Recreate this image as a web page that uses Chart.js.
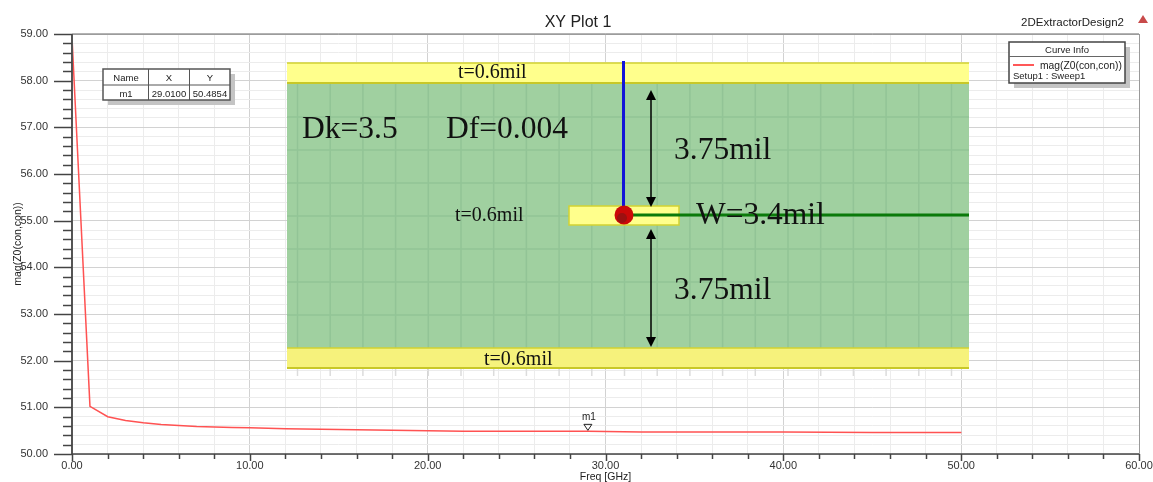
<!DOCTYPE html>
<html>
<head>
<meta charset="utf-8">
<title>XY Plot 1</title>
<script src="https://cdn.jsdelivr.net/npm/chart.js@4"></script>
<style>
  html, body { margin: 0; padding: 0; background: #fff; }
  /* the reference is a slightly soft screenshot */
  canvas { display: block; filter: blur(0.4px); }
</style>
</head>
<body>
<canvas id="xy-plot" width="1153" height="482"></canvas>
<script>
// values
const freqGHz = [0.01, 1.01, 2.01, 3.01, 4.01, 5.01, 6.01, 7.01, 8.01, 9.01, 10.01, 12.01, 14.01, 16.01, 18.01, 20.01, 22.01, 25.01, 29.01, 32.01, 36.01, 40.01, 45.01, 50.01];
const magZ0 = [58.85, 51.02, 50.80, 50.72, 50.67, 50.63, 50.61, 50.59, 50.58, 50.57, 50.56, 50.54, 50.53, 50.52, 50.51, 50.50, 50.49, 50.49, 50.4854, 50.47, 50.47, 50.47, 50.46, 50.46];
const markerName = 'm1';
const markerX = 29.01;
const markerY = 50.4854;

const plotTitle = 'XY Plot 1';
const designName = '2DExtractorDesign2';
const curveName = 'mag(Z0(con,con))';
const curveSetup = 'Setup1 : Sweep1';
const sans = '"Liberation Sans", Arial, sans-serif';
const serif = '"Liberation Serif", "Times New Roman", serif';

function text(c, str, x, y, font, align, color) {
  c.font = font;
  c.textAlign = align || 'left';
  c.textBaseline = 'middle';
  c.fillStyle = color || '#222';
  c.fillText(str, x, y);
}

function line(c, x1, y1, x2, y2, color, width) {
  c.strokeStyle = color;
  c.lineWidth = width;
  c.beginPath();
  c.moveTo(x1, y1);
  c.lineTo(x2, y2);
  c.stroke();
}

function arrowHead(c, x, y, dir) {
  c.fillStyle = '#000';
  c.beginPath();
  c.moveTo(x, y);
  c.lineTo(x - 5, y - dir * 10);
  c.lineTo(x + 5, y - dir * 10);
  c.closePath();
  c.fill();
}

function band(c, y, h, fill) {
  c.fillStyle = fill;
  c.fillRect(287, y, 682, h);
  line(c, 287, y, 969, y, '#d2d232', 1.5);
  line(c, 287, y + h, 969, y + h, '#c8c828', 2);
}

// the stack-up picture pasted on top of the plot
function drawInset(c) {
  c.fillStyle = '#a0d0a0';
  c.fillRect(287, 83, 682, 265);
  for (let i = 0; i <= 20; i++) {
    const x = 297.5 + i * 32.7;
    line(c, x, 83, x, 348, '#92c496', 1.5);
    line(c, x, 368, x, 376, '#dcdcdc', 1.5);
  }
  for (let i = 0; i < 7; i++) {
    const y = 117 + i * 33;
    line(c, 287, y, 969, y, '#92c496', 1.5);
  }

  band(c, 63, 20, '#ffff8c');
  band(c, 348, 20, '#f6f27c');
  c.fillStyle = '#ffff8c';
  c.strokeStyle = '#d2d232';
  c.lineWidth = 1.5;
  c.fillRect(569, 206, 110, 19);
  c.strokeRect(569, 206, 110, 19);

  line(c, 623.5, 61, 623.5, 215, '#1414d8', 3);
  line(c, 624, 215, 969, 215, '#0a7a0a', 3);
  c.fillStyle = '#cc0808';
  c.beginPath();
  c.arc(624, 215, 9.5, 0, Math.PI * 2);
  c.fill();
  c.fillStyle = '#9c1010';
  c.beginPath();
  c.arc(622, 218, 5, 0, Math.PI * 2);
  c.fill();

  line(c, 651, 95, 651, 202, '#000', 1.5);
  arrowHead(c, 651, 90, -1);
  arrowHead(c, 651, 207, 1);
  line(c, 651, 234, 651, 342, '#000', 1.5);
  arrowHead(c, 651, 229, -1);
  arrowHead(c, 651, 347, 1);

  const small = '20px ' + serif;
  const big = '31.5px ' + serif;
  text(c, 't=0.6mil', 458, 73, small, 'left', '#111');
  text(c, 't=0.6mil', 455, 216, small, 'left', '#111');
  text(c, 't=0.6mil', 484, 360, small, 'left', '#111');
  text(c, 'Dk=3.5', 302, 130, big, 'left', '#111');
  text(c, 'Df=0.004', 446, 130, big, 'left', '#111');
  text(c, '3.75mil', 674, 150.5, big, 'left', '#111');
  text(c, '3.75mil', 674, 290.5, big, 'left', '#111');
  text(c, 'W=3.4mil', 696, 215.5, big, 'left', '#111');
}

function drawMarkerTable(c) {
  c.fillStyle = '#c4c4c4';
  c.fillRect(108, 74, 127, 31);
  c.fillStyle = '#fff';
  c.fillRect(103, 69, 127, 31);
  c.strokeStyle = '#555';
  c.lineWidth = 1.5;
  c.strokeRect(103, 69, 127, 31);
  line(c, 103, 85, 230, 85, '#555', 1);
  line(c, 148.5, 69, 148.5, 100, '#555', 1);
  line(c, 189.5, 69, 189.5, 100, '#555', 1);
  const f = '9.5px ' + sans;
  text(c, 'Name', 126, 78, f, 'center');
  text(c, 'X', 169, 78, f, 'center');
  text(c, 'Y', 210, 78, f, 'center');
  text(c, markerName, 126, 94, f, 'center');
  text(c, markerX.toFixed(4), 169, 94, f, 'center');
  text(c, markerY.toFixed(4), 210, 94, f, 'center');
}

function drawCurveInfo(c) {
  c.fillStyle = '#c4c4c4';
  c.fillRect(1014, 47, 116, 41);
  c.fillStyle = '#fff';
  c.fillRect(1009, 42, 116, 41);
  c.strokeStyle = '#444';
  c.lineWidth = 1.5;
  c.strokeRect(1009, 42, 116, 41);
  line(c, 1009, 56.5, 1125, 56.5, '#666', 1);
  text(c, 'Curve Info', 1067, 50, '9.5px ' + sans, 'center');
  line(c, 1013, 65, 1034, 65, '#ff2020', 1.5);
  text(c, curveName, 1040, 66, '10.3px ' + sans);
  text(c, curveSetup, 1013, 76, '9.5px ' + sans);
}

const plotDecor = {
  id: 'plotDecor',
  afterDatasetsDraw(chart) {
    const c = chart.ctx;
    const { left, right, top, bottom } = chart.chartArea;
    const xs = chart.scales.x;
    const ys = chart.scales.y;
    c.save();

    // frame and tick marks
    line(c, left, top, right, top, '#666', 1);
    line(c, right + 0.5, top, right + 0.5, bottom, '#999', 1);
    line(c, left, top, left, bottom, '#555', 2);
    line(c, left, bottom, right, bottom, '#444', 1.5);
    xs.ticks.forEach((t, i) => {
      const px = Math.round(xs.getPixelForTick(i)) + 0.5;
      line(c, px, bottom, px, bottom + (t.label ? 7 : 5), '#444', 1.5);
    });
    ys.ticks.forEach((t, i) => {
      const py = Math.round(ys.getPixelForTick(i)) + 0.5;
      line(c, left - (t.label ? 18 : 9), py, left, py, '#444', 1.5);
    });

    drawInset(c);
    drawMarkerTable(c);
    drawCurveInfo(c);

    // marker triangle sits just above its point
    const p = chart.getDatasetMeta(1).data[0];
    c.strokeStyle = '#222';
    c.lineWidth = 1;
    c.beginPath();
    c.moveTo(p.x, p.y - 1);
    c.lineTo(p.x - 4, p.y - 7);
    c.lineTo(p.x + 4, p.y - 7);
    c.closePath();
    c.stroke();
    text(c, markerName, p.x + 1, p.y - 14, '10px ' + sans, 'center');

    // header bits
    text(c, plotTitle, 578, 23, '16px ' + sans, 'center');
    text(c, designName, 1124, 22.5, '11.5px ' + sans, 'right');
    c.fillStyle = '#c84a4a';
    c.beginPath();
    c.moveTo(1143, 15);
    c.lineTo(1148, 23);
    c.lineTo(1138, 23);
    c.closePath();
    c.fill();
    c.restore();
  }
};

new Chart(document.getElementById('xy-plot').getContext('2d'), {
  type: 'scatter',
  data: {
    datasets: [{
      label: curveName,
      data: freqGHz.map((f, i) => ({ x: f, y: magZ0[i] })),
      showLine: true,
      borderColor: '#ff5252',
      borderWidth: 1.5,
      pointRadius: 0,
      tension: 0
    }, {
      label: markerName,
      data: [{ x: markerX, y: markerY }],
      pointRadius: 0
    }]
  },
  plugins: [plotDecor],
  options: {
    responsive: false,
    animation: false,
    layout: { padding: { left: 0, right: 14, top: 34, bottom: 0 } },
    plugins: {
      legend: { display: false },
      tooltip: { enabled: false },
      title: { display: false }
    },
    scales: {
      x: {
        type: 'linear',
        min: 0,
        max: 60,
        afterFit: s => { s.height = 28; s.paddingLeft = 0; s.paddingRight = 0; },
        border: { display: false },
        grid: {
          drawTicks: false,
          lineWidth: 1,
          color: ctx => (ctx.tick.value % 10 === 0 ? '#d2d2d2' : '#ececec')
        },
        ticks: {
          stepSize: 2,
          autoSkip: false,
          maxRotation: 0,
          padding: 5,
          color: '#333',
          font: { family: sans, size: 11 },
          callback: v => (v % 10 === 0 ? v.toFixed(2) : '')
        },
        title: {
          display: true,
          text: 'Freq [GHz]',
          color: '#222',
          font: { family: sans, size: 10.5, lineHeight: 1 },
          padding: { top: 0, bottom: 0 }
        }
      },
      y: {
        type: 'linear',
        min: 50,
        max: 59,
        afterFit: s => { s.width = 72; s.paddingTop = 0; s.paddingBottom = 0; },
        border: { display: false },
        grid: {
          drawTicks: false,
          lineWidth: 1,
          color: ctx => (Math.abs(ctx.tick.value - Math.round(ctx.tick.value)) < 1e-6 ? '#d2d2d2' : '#ececec')
        },
        ticks: {
          stepSize: 0.2,
          autoSkip: false,
          padding: 24,
          color: '#333',
          font: { family: sans, size: 11 },
          callback: v => (Math.abs(v - Math.round(v)) < 1e-6 ? v.toFixed(2) : '')
        },
        title: {
          display: true,
          text: curveName,
          color: '#222',
          font: { family: sans, size: 10.5, lineHeight: 1 },
          padding: { top: 13, bottom: 0 }
        }
      }
    }
  }
});
</script>
</body>
</html>
